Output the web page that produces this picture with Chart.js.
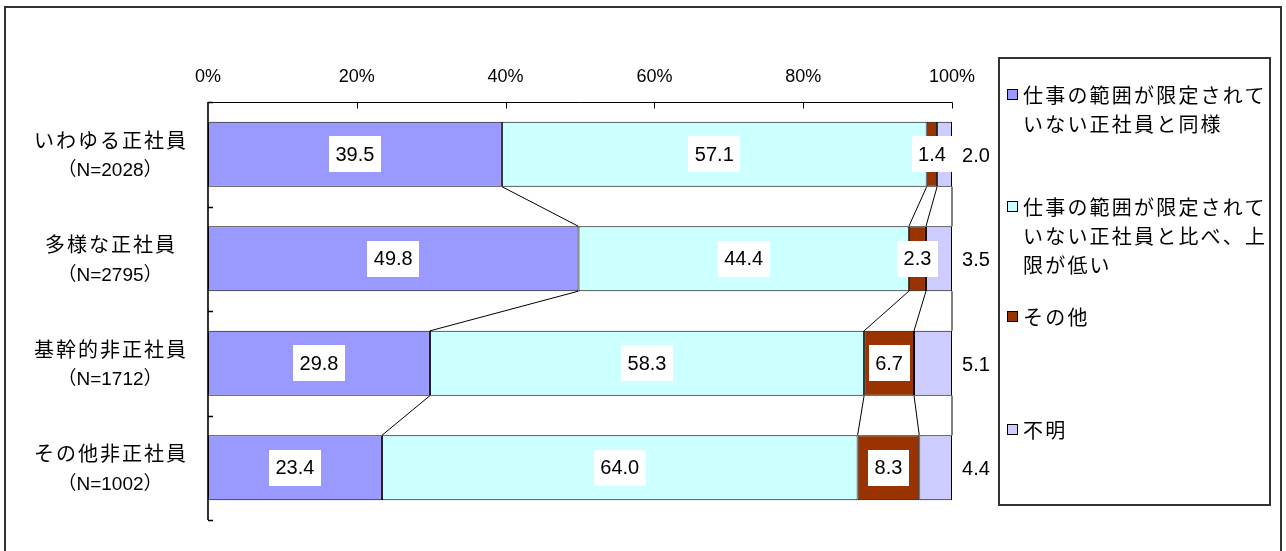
<!DOCTYPE html>
<html>
<head>
<meta charset="utf-8">
<script src="https://cdn.jsdelivr.net/npm/chart.js@4/dist/chart.umd.min.js"></script>
<style>
  html, body { margin: 0; padding: 0; background: #fff; }
  #wrap { position: relative; width: 1286px; height: 551px; overflow: hidden; }
  #frame { position: absolute; left: 4px; top: 6px; width: 1278px; height: 580px; border: 2px solid #333; box-sizing: border-box; }
  canvas { position: absolute; left: 0; top: 0; }
  #legend { position: absolute; left: 998px; top: 57px; width: 273px; height: 449px; border: 2px solid #333; box-sizing: border-box; background: #fff; }
  .item { position: absolute; left: 0; width: 276px; font: 20px "Noto Sans CJK JP", sans-serif; letter-spacing: 2.2px; line-height: 29px; color: #000; }
  .item .txt { margin-left: 23px; display: block; }
  .item .mk { position: absolute; left: 7px; top: 9px; width: 9px; height: 9px; border: 1px solid #000; }
</style>
</head>
<body>
<div id="wrap">
  <div id="frame"></div>
  <canvas id="c" width="1286" height="551"></canvas>
  <div id="legend"></div>
</div>
<script>
// ---- data ----
const categories = ['いわゆる正社員', '多様な正社員', '基幹的非正社員', 'その他非正社員'];
const sampleSizes = ['（N=2028）', '（N=2795）', '（N=1712）', '（N=1002）'];
const seriesNames = [
  '仕事の範囲が限定されていない正社員と同様',
  '仕事の範囲が限定されていない正社員と比べ、上限が低い',
  'その他',
  '不明'
];
const sameAsRegular = [39.5, 49.8, 29.8, 23.4];
const lowerCap = [57.1, 44.4, 58.3, 64.0];
const otherVals = [1.4, 2.3, 6.7, 8.3];
const unknownVals = [2.0, 3.5, 5.1, 4.4];
const xTicks = [0, 20, 40, 60, 80, 100];

// ---- styles ----
const colors = ['#9999FF', '#CCFFFF', '#993300', '#CCCCFF'];
const legendTops = [78, 190, 300, 413];

const seriesData = [sameAsRegular, lowerCap, otherVals, unknownVals];
// 100% stacked: each row is scaled to its own total (as the original chart does)
const rowTotals = categories.map((_, r) => seriesData.reduce((s, d) => s + d[r], 0));

const excelPlugin = {
  id: 'excelLook',
  beforeDatasetsDraw(chart) {
    const ctx = chart.ctx;
    ctx.save();
    ctx.strokeStyle = '#000';
    ctx.lineWidth = 1;
    // series lines between bars
    chart.data.datasets.forEach((ds, di) => {
      const meta = chart.getDatasetMeta(di);
      for (let r = 0; r < meta.data.length - 1; r++) {
        const a = meta.data[r], b = meta.data[r + 1];
        ctx.beginPath();
        ctx.moveTo(a.x, a.y + a.height / 2);
        ctx.lineTo(b.x, b.y - b.height / 2);
        ctx.stroke();
      }
    });
    ctx.restore();
  },
  afterDatasetsDraw(chart) {
    const ctx = chart.ctx;
    const area = chart.chartArea;
    ctx.save();
    ctx.font = '20px "Liberation Sans", Arial, sans-serif';
    ctx.textBaseline = 'middle';
    ctx.textAlign = 'center';
    chart.data.datasets.forEach((ds, di) => {
      const meta = chart.getDatasetMeta(di);
      meta.data.forEach((el, i) => {
        const txt = seriesData[di][i].toFixed(1);
        if (di < 3) {
          const cx = (el.x + el.base) / 2;
          const w = ctx.measureText(txt).width + 13;
          const h = 36;
          ctx.fillStyle = '#fff';
          ctx.fillRect(Math.round(cx - w / 2), Math.round(el.y - h / 2), Math.round(w), h);
          ctx.fillStyle = '#000';
          ctx.fillText(txt, cx, el.y + 1);
        } else {
          ctx.fillStyle = '#000';
          ctx.fillText(txt, area.right + 24, el.y + 2);
        }
      });
    });
    ctx.restore();
  },
  afterDraw(chart) {
    const ctx = chart.ctx;
    const area = chart.chartArea;
    const x = chart.scales.x, y = chart.scales.y;
    ctx.save();
    ctx.strokeStyle = '#000';
    ctx.lineWidth = 1;
    // top axis
    const top = Math.round(area.top) + 0.5;
    ctx.beginPath();
    ctx.moveTo(area.left, top);
    ctx.lineTo(area.right + 0.5, top);
    xTicks.forEach(v => {
      const px = Math.round(x.getPixelForValue(v)) + 0.5;
      if (v > 0) { ctx.moveTo(px, top); ctx.lineTo(px, top + 6); }
    });
    ctx.stroke();
    // left axis
    ctx.lineWidth = 1.6;
    const left = Math.round(area.left);
    ctx.beginPath();
    ctx.moveTo(left, area.top);
    ctx.lineTo(left, area.bottom);
    for (let i = 0; i <= categories.length; i++) {
      const py = Math.round(y.getPixelForValue(i - 0.5)) + 0.5;
      ctx.moveTo(left, py);
      ctx.lineTo(left + 5, py);
    }
    ctx.stroke();
    // x tick labels
    ctx.fillStyle = '#000';
    ctx.textAlign = 'center';
    ctx.textBaseline = 'middle';
    ctx.font = '18px "Liberation Sans Narrow", "Liberation Sans", Arial, sans-serif';
    xTicks.forEach(v => {
      ctx.fillText(v + '%', x.getPixelForValue(v), area.top - 25);
    });
    // category labels
    const labelX = area.left - 98;
    categories.forEach((c, i) => {
      const cy = y.getPixelForValue(i);
      ctx.font = '20px "Noto Sans CJK JP", sans-serif';
      try { ctx.letterSpacing = '2px'; } catch (e) {}
      ctx.fillText(c, labelX + 1, cy - 14);
      try { ctx.letterSpacing = '0px'; } catch (e) {}
      ctx.font = '19px "Liberation Sans", "Noto Sans CJK JP", sans-serif';
      ctx.fillText(sampleSizes[i], labelX, cy + 17);
    });
    ctx.restore();
  }
};

const chart = new Chart(document.getElementById('c'), {
  type: 'bar',
  data: {
    labels: categories,
    datasets: seriesData.map((d, i) => ({
      label: seriesNames[i],
      data: d.map((v, r) => v / rowTotals[r] * 100),
      backgroundColor: colors[i],
      borderColor: '#000',
      borderWidth: 1,
      borderSkipped: false,
      categoryPercentage: 1,
      barPercentage: 0.62
    }))
  },
  options: {
    indexAxis: 'y',
    responsive: false,
    animation: false,
    devicePixelRatio: 1,
    layout: { padding: { left: 208, right: 334, top: 102, bottom: 31 } },
    plugins: { legend: { display: false }, tooltip: { enabled: false } },
    scales: {
      x: { stacked: true, min: 0, max: 100, display: false },
      y: { stacked: true, display: false }
    }
  },
  plugins: [excelPlugin]
});

// HTML legend built from the series
const lg = document.getElementById('legend');
seriesNames.forEach((name, i) => {
  const it = document.createElement('div');
  it.className = 'item';
  it.style.top = (legendTops[i] - 57) + 'px';
  const mk = document.createElement('span');
  mk.className = 'mk';
  mk.style.background = colors[i];
  const tx = document.createElement('span');
  tx.className = 'txt';
  tx.textContent = name;
  it.appendChild(mk);
  it.appendChild(tx);
  lg.appendChild(it);
});
</script>
</body>
</html>
